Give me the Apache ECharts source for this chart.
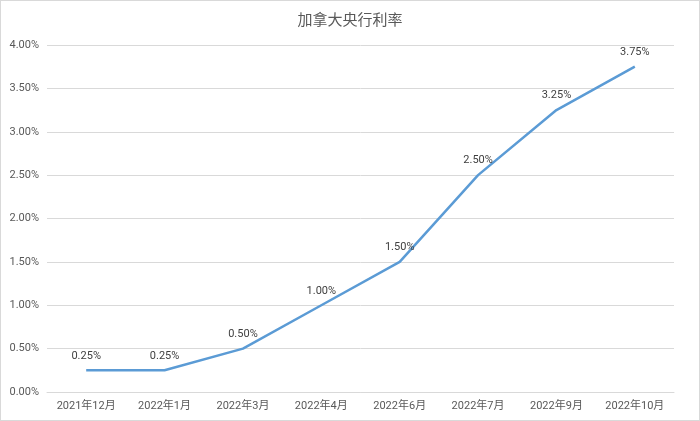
<!DOCTYPE html>
<html>
<head>
<meta charset="utf-8">
<script src="https://cdn.jsdelivr.net/npm/echarts@6/dist/echarts.min.js"></script>
<style>
  html, body { margin: 0; padding: 0; background: #fff; }
  #chart { width: 700px; height: 421px; box-sizing: border-box; border: 1px solid #d9d9d9; }
</style>
</head>
<body>
<div id="chart"></div>
<script>
// Bank of Canada policy rate by month
const months = ['2021年12月', '2022年1月', '2022年3月', '2022年4月', '2022年6月', '2022年7月', '2022年9月', '2022年10月'];
const rates = [0.25, 0.25, 0.50, 1.00, 1.50, 2.50, 3.25, 3.75];
const yTicks = [0, 0.5, 1, 1.5, 2, 2.5, 3, 3.5, 4];

const chart = echarts.init(document.getElementById('chart'), null, { renderer: 'canvas' });
const fontFamily = 'Roboto, "Noto Sans CJK SC", sans-serif';

chart.setOption({
  animation: false,
  title: {
    text: '加拿大央行利率',
    left: 'center',
    top: 8,
    textStyle: { color: '#595959', fontSize: 15, fontWeight: 'normal', fontFamily: fontFamily }
  },
  grid: { left: 46, right: 25, top: 44, bottom: 28, containLabel: false },
  xAxis: {
    type: 'category',
    data: months,
    boundaryGap: true,
    axisLine: { show: true, lineStyle: { color: '#d9d9d9', width: 1 } },
    axisTick: { show: false },
    axisLabel: { color: '#595959', fontSize: 11, margin: 9, fontFamily: fontFamily }
  },
  yAxis: {
    type: 'value',
    min: yTicks[0],
    max: yTicks[yTicks.length - 1],
    interval: 0.5,
    axisLine: { show: false },
    axisTick: { show: false },
    splitLine: { lineStyle: { color: '#d9d9d9', width: 1 } },
    axisLabel: {
      color: '#595959', fontSize: 11, margin: 8, fontFamily: fontFamily,
      formatter: v => v.toFixed(2) + '%'
    }
  },
  series: [{
    type: 'line',
    data: rates,
    symbol: 'circle',
    symbolSize: 0,
    showSymbol: true,
    lineStyle: { color: '#5b9bd5', width: 2.5 },
    itemStyle: { color: '#5b9bd5' },
    label: {
      show: true,
      position: 'top',
      distance: 9,
      color: '#404040',
      fontSize: 11,
      fontFamily: fontFamily,
      formatter: p => p.value.toFixed(2) + '%'
    }
  }]
});
</script>
</body>
</html>
